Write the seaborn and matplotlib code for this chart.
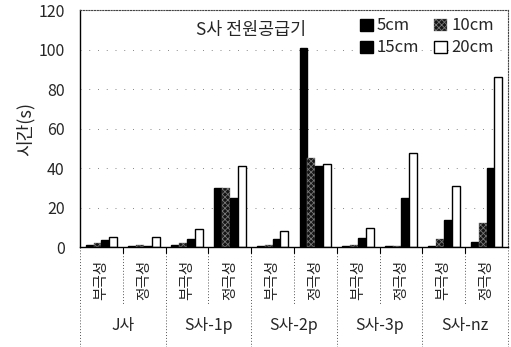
import matplotlib
matplotlib.use("Agg")
import matplotlib.pyplot as plt
import matplotlib.transforms as mtransforms
import seaborn as sns
import pandas as pd

# ---- data ----
groups = ["J사", "S사-1p", "S사-2p", "S사-3p", "S사-nz"]
polarities = ["부극성", "정극성"]
series_names = ["5cm", "10cm", "15cm", "20cm"]
vals_5cm = [1.0, 0.5, 1.0, 30, 0.7, 101, 0.5, 0.3, 0.5, 2.4]
vals_10cm = [2.0, 0.8, 2.0, 30, 1.0, 45, 1.2, 0.3, 4.0, 12]
vals_15cm = [3.5, 0.6, 4.2, 25, 4.0, 41, 4.5, 25, 13.5, 40]
vals_20cm = [5.2, 5.0, 9.2, 41, 8.1, 42, 9.6, 47.5, 31, 86]
title_text = "S사 전원공급기"
ylabel_text = "시간(s)"
yticks = [0, 20, 40, 60, 80, 100, 120]

sns.set_style("white")
plt.rcParams["font.family"] = ["Noto Sans CJK KR", "DejaVu Sans"]
plt.rcParams["hatch.linewidth"] = 0.6

cat_keys = [f"{g}|{p}" for g in groups for p in polarities]
tick_labels = [p for g in groups for p in polarities]
rows = []
for name, vals in zip(series_names, [vals_5cm, vals_10cm, vals_15cm, vals_20cm]):
    for k, v in zip(cat_keys, vals):
        rows.append({"cat": k, "series": name, "value": v})
df = pd.DataFrame(rows)

fig = plt.figure(figsize=(5.11, 3.47), dpi=100)
ax = fig.add_axes([0.1566, 0.288, 0.8374, 0.683])

palette = {"5cm": "black", "10cm": "#151515", "15cm": "black", "20cm": "white"}
sns.barplot(data=df, x="cat", y="value", hue="series", order=cat_keys,
            hue_order=series_names, palette=palette, width=0.74, gap=0,
            edgecolor="black", linewidth=1.0, saturation=1, ax=ax, legend=False)

# speckled hatch for 10cm
for bar in ax.containers[1]:
    bar.set_hatch("xxxxxx")
    bar.set_edgecolor("#777777")
    bar.set_linewidth(0.3)

ax.set_xlim(-0.5, 9.5)
ax.set_ylim(0, 120)
ax.set_yticks(yticks)
ax.tick_params(axis="y", labelsize=11.5, length=3, direction="in", pad=11)
ax.set_xticks(range(len(cat_keys)))
ax.set_xticklabels(tick_labels, rotation=90, fontsize=10.5)
ax.tick_params(axis="x", length=0, pad=9)
ax.set_xlabel("")
ax.set_ylabel(ylabel_text, fontsize=13, labelpad=3)

# grid
ax.yaxis.grid(True, linestyle=(0, (1, 8)), color="#888888", linewidth=0.7)
ax.set_axisbelow(True)

# spines
for s in ["left", "bottom"]:
    ax.spines[s].set_color("black")
    ax.spines[s].set_linewidth(1.0)
for s in ["top", "right"]:
    ax.spines[s].set_linestyle((0, (1, 1.5)))
    ax.spines[s].set_color("#444444")
    ax.spines[s].set_linewidth(0.8)

# multi-level category axis
trans = mtransforms.blended_transform_factory(ax.transData, ax.transAxes)
for i in range(len(cat_keys) + 1):
    x = i - 0.5
    y_end = -0.42 if i % 2 == 0 else -0.245
    ax.plot([x, x], [0, y_end], transform=trans, clip_on=False,
            color="#555555", linestyle=(0, (1, 2)), linewidth=0.7)
    if 0 < i < len(cat_keys):
        ax.plot([x, x], [0, -0.025], transform=trans, clip_on=False,
                color="black", linewidth=0.8)
for gi, g in enumerate(groups):
    ax.text(2 * gi + 0.5, -0.33, g, transform=trans, ha="center", va="center",
            fontsize=11.5)

ax.text(0.40, 0.915, title_text, transform=ax.transAxes, ha="center",
        va="center", fontsize=12.5)

# legend (row1: 5cm,10cm ; row2: 15cm,20cm)
h = [ax.containers[i].patches[0] for i in range(4)]
order = [0, 2, 1, 3]
leg = ax.legend([h[i] for i in order], [series_names[i] for i in order],
                ncol=2, loc="upper right", bbox_to_anchor=(0.998, 1.025),
                frameon=False, fontsize=12, handlelength=0.75,
                handleheight=0.75, handletextpad=0.25, columnspacing=0.9,
                labelspacing=0.3, borderpad=0.3)

fig.savefig("out.png", dpi=100)
